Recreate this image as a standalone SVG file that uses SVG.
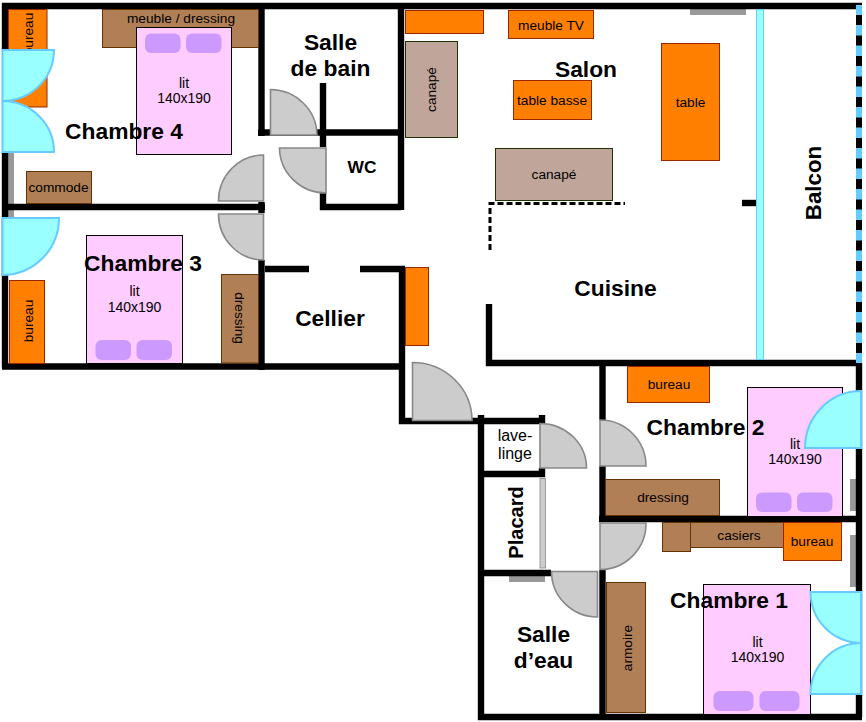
<svg xmlns="http://www.w3.org/2000/svg" width="866" height="722" viewBox="0 0 866 722">
<style>
text{font-family:"Liberation Sans",Arial,sans-serif;fill:#000;text-anchor:middle}
.f{font-size:13.7px}
.l{font-size:14px}
.r{font-size:22.8px;font-weight:bold}
.o{fill:#ff8000;stroke:#992600;stroke-width:1}
.b{fill:#b07f55;stroke:#663300;stroke-width:1}
.c{fill:#c0a69a;stroke:#1f3300;stroke-width:1}
.bed{fill:#ffccff;stroke:#000;stroke-width:1}
.p{fill:#cc99ff}
.g{fill:#999}
.d{fill:#ccc;stroke:#888;stroke-width:1.6}
.w{fill:#9ff;stroke:#6cf;stroke-width:2}
#walls path{fill:none;stroke:#000;stroke-width:6.4}
</style>
<rect width="866" height="722" fill="#fff"/>
<g id="windows">
<rect class="g" x="8" y="152" width="6" height="52"/>
<rect class="g" x="8" y="210" width="6" height="10"/>
<rect class="g" x="690" y="9" width="56" height="6"/>
<rect class="g" x="850" y="479" width="6" height="32"/>
<rect class="g" x="850" y="535" width="6" height="52"/>
<rect class="g" x="509" y="576" width="36" height="6"/>
</g>
<g id="walls">
<path d="M2 6H862"/>
<path d="M5 3V50M5 152V367"/>
<path d="M2 207H265"/>
<path d="M261.500 3V136M261.500 202V213M261.500 260V370"/>
<path d="M2 366.500H405"/>
<path d="M258 132.500H402"/>
<path d="M265 269H309M360 269H405"/>
<path d="M401 3V210"/>
<path d="M323 83V147M323 193V207H401"/>
<path d="M402 267V421H545"/>
<path d="M489 304V363H862"/>
<path d="M742 203H756"/>
<path d="M859 363V522M859 522V717"/>
<path d="M602.500 360V420M602.500 466V522M602.500 570V720"/>
<path d="M599 519H862"/>
<path d="M481 415V717H862"/>
<path d="M542 415V424M542 468V477"/>
<path d="M478 474H545"/>
<path d="M478 573H551"/>
<path d="M490 250V203.500H625" stroke-dasharray="6 3" style="stroke-width:3"/>
</g>
<g id="balcony">
<rect x="756.500" y="9.500" width="7" height="350" fill="#9ff" stroke="#6cf" stroke-width="1"/>
<rect x="856" y="5" width="6" height="358" fill="#6cf"/>
<path d="M859 15V360" fill="none" stroke="#000" stroke-width="6" stroke-dasharray="10 10.500"/>
</g>
<g id="chambre4">
<rect class="o" x="8.500" y="9.500" width="38.500" height="97.500"/>
<text class="f" transform="translate(33,34) rotate(-90)">bureau</text>
<rect class="b" x="102.500" y="9.500" width="156" height="38"/>
<text class="f" x="181" y="23">meuble / dressing</text>
<rect class="bed" x="136.500" y="27.500" width="95" height="127"/>
<rect class="p" x="145" y="33.500" width="35.500" height="19.500" rx="6"/>
<rect class="p" x="186" y="33.500" width="35.500" height="19.500" rx="6"/>
<text class="l" x="184" y="88">lit</text>
<text class="l" x="184" y="103">140x190</text>
<rect class="b" x="26.500" y="171.500" width="65" height="32"/>
<text class="f" x="58.500" y="192">commode</text>
<text class="r" x="124" y="139">Chambre 4</text>
</g>
<g id="chambre3">
<rect class="o" x="9.500" y="280.500" width="35" height="83"/>
<text class="f" transform="translate(33,321) rotate(-90)">bureau</text>
<rect class="b" x="221.500" y="274.500" width="37" height="88.500"/>
<text class="f" transform="translate(235,318) rotate(90)">dressing</text>
<rect class="bed" x="86.500" y="235.500" width="96" height="128"/>
<rect class="p" x="95.500" y="340" width="35.500" height="20" rx="6"/>
<rect class="p" x="136.500" y="340" width="35.500" height="20" rx="6"/>
<text class="l" x="134.500" y="296">lit</text>
<text class="l" x="134.500" y="312">140x190</text>
<text class="r" x="143" y="270.500">Chambre 3</text>
</g>
<g id="salle-de-bain"><text class="r" x="330.500" y="50">Salle</text><text class="r" x="330.500" y="75.500">de bain</text></g>
<g id="wc"><text class="r" x="362" y="173" style="font-size:17.33px">WC</text></g>
<g id="cellier"><text class="r" x="330" y="325.500">Cellier</text></g>
<g id="salon">
<rect class="o" x="405.500" y="10.500" width="78" height="23"/>
<rect class="c" x="405.500" y="41.500" width="52" height="96"/>
<text class="f" transform="translate(436,89.500) rotate(-90)">canapé</text>
<rect class="o" x="508.500" y="10.500" width="85" height="28"/>
<text class="f" x="551" y="29.500">meuble TV</text>
<rect class="o" x="513.500" y="80.500" width="78" height="39"/>
<text class="f" x="552" y="105">table basse</text>
<rect class="o" x="661.500" y="43.500" width="58" height="117"/>
<text class="f" x="690.500" y="107">table</text>
<rect class="c" x="495.500" y="148.500" width="117" height="52"/>
<text class="f" x="554" y="179">canapé</text>
<text class="r" x="586" y="76.500">Salon</text>
<text class="r" transform="translate(821,183) rotate(-90)" style="font-size:22.3px">Balcon</text>
</g>
<g id="cuisine">
<rect class="o" x="405.500" y="267.500" width="23" height="78"/>
<text class="r" x="615.500" y="296">Cuisine</text>
</g>
<g id="chambre2">
<rect class="o" x="627.500" y="366.500" width="82" height="36"/>
<text class="f" x="669" y="389">bureau</text>
<rect class="b" x="605.500" y="479.500" width="114" height="36"/>
<text class="f" x="663" y="502">dressing</text>
<rect class="bed" x="747.500" y="387.500" width="95" height="129"/>
<rect class="p" x="756" y="492.500" width="35.500" height="19.500" rx="6"/>
<rect class="p" x="797" y="492.500" width="35.500" height="19.500" rx="6"/>
<text class="l" x="795" y="449">lit</text>
<text class="l" x="795" y="464">140x190</text>
<text class="r" x="705.500" y="435">Chambre 2</text>
</g>
<g id="chambre1">
<rect class="b" x="662.500" y="522.500" width="28" height="29"/>
<rect class="b" x="690.500" y="522.500" width="93" height="25"/>
<text class="f" x="739" y="540">casiers</text>
<rect class="o" x="783.500" y="522.500" width="58" height="38"/>
<text class="f" x="812" y="546">bureau</text>
<rect class="b" x="606.500" y="582.500" width="39" height="130"/>
<text class="f" transform="translate(632,648) rotate(-90)">armoire</text>
<rect class="bed" x="703.500" y="584.500" width="107" height="130"/>
<rect class="p" x="713.500" y="691" width="40" height="20" rx="6"/>
<rect class="p" x="759.500" y="691" width="40" height="20" rx="6"/>
<text class="l" x="757.500" y="647">lit</text>
<text class="l" x="757.500" y="662">140x190</text>
<text class="r" x="729" y="607.500">Chambre 1</text>
</g>
<g id="lave-linge"><text x="515" y="441" style="font-size:16px">lave-</text><text x="515" y="458.500" style="font-size:16px">linge</text></g>
<g id="placard"><text class="r" transform="translate(523,522.500) rotate(-90)" style="font-size:20px">Placard</text></g>
<g id="salle-d-eau"><text class="r" x="543.500" y="642">Salle</text><text class="r" x="543.500" y="668">d’eau</text></g>
<g id="doors">
<path class="d" d="M270.500 135V89.500A47 46 0 0 1 317 135Z"/>
<path class="d" d="M326 148H279.500A46.500 45.500 0 0 0 326 193Z"/>
<path class="d" d="M263.500 201H218.500A45 46 0 0 1 263.500 155Z"/>
<path class="d" d="M263.500 214H218.500A45 46 0 0 0 263.500 260Z"/>
<path class="d" d="M412.500 420.500V362.500A59.500 58 0 0 1 472 420.500Z"/>
<path class="d" d="M540 468V423.500A46.500 44.500 0 0 1 586.500 468Z"/>
<path class="d" d="M600 466V420A46 46 0 0 1 646 466Z"/>
<path class="d" d="M600 523H646A46 46 0 0 1 600 569.500Z"/>
<path class="d" d="M597.500 571.500H551.500A46 45.500 0 0 0 597.500 617Z"/>
<rect x="540" y="478.500" width="5.500" height="89.500" fill="#ccc" stroke="#999" stroke-width="1"/>
<path class="w" d="M2.500 50H54A51.500 51 0 0 1 2.500 101Z"/>
<path class="w" d="M2.500 152H54A51.500 51 0 0 0 2.500 101Z"/>
<path class="w" d="M2.500 218H59A56.500 57 0 0 1 2.500 275Z"/>
<path class="w" d="M861 448H805A56 57 0 0 1 861 391Z"/>
<path class="w" d="M861 592H810.500A50.500 51 0 0 0 861 643Z"/>
<path class="w" d="M861 694H810.500A50.500 51 0 0 1 861 643Z"/>
</g>
</svg>
